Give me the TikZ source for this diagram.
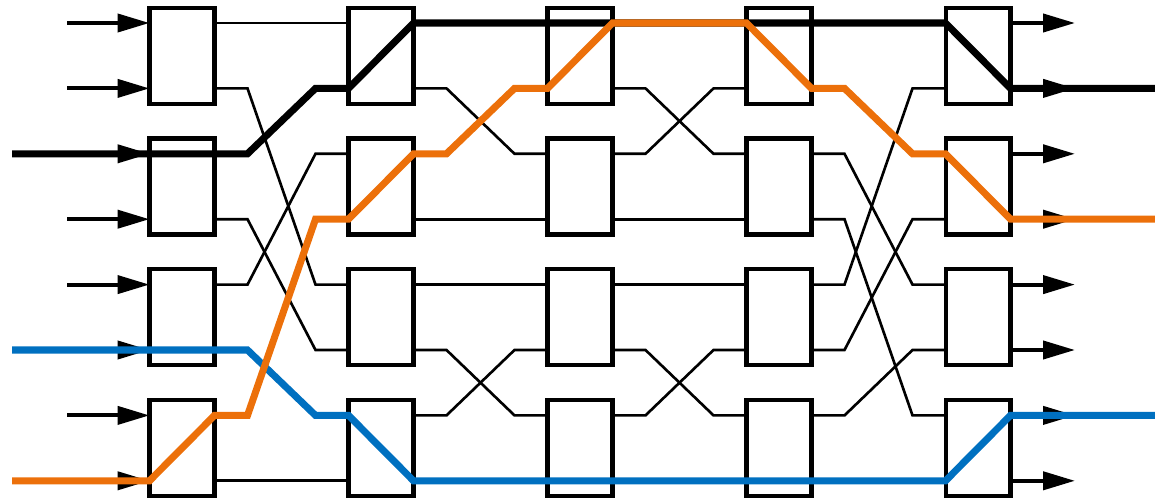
\documentclass[tikz,border=0pt]{standalone}
\usepackage{xcolor}
\usepackage{tikz}
\usetikzlibrary{arrows.meta}
\definecolor{pathorange}{HTML}{EC700A}
\definecolor{pathblue}{HTML}{0070C0}

\newcommand{\netwire}[2]{\draw[wire] (#1) -- ++(33,0) -- ([xshift=-0.66cm]#2) -- (#2);}

\begin{document}
\begin{tikzpicture}[x=0.02cm, y=-0.02cm,
  switch/.style={draw, line width=2.3pt, minimum width=1.3cm, minimum height=1.92cm, inner sep=0pt, outer sep=0pt},
  wire/.style={line width=1.5pt},
  feed/.style={line width=2.3pt, -{Triangle[length=0.64cm, width=0.36cm]}},
  route/.style={line width=4pt}]
  \useasboundingbox (0,0) rectangle (1155,503);

  % Switches and their ports
  \foreach \s in {1,...,5} {
    \foreach \k in {0,...,3}
      \node[switch] (sw\s-\k) at ({182+199*(\s-1)}, {55.7+130.8*\k}) {};
    \foreach \r in {0,...,7} {
      \coordinate (in\s-\r) at ({149.5+199*(\s-1)}, {23+65.4*\r});
      \coordinate (out\s-\r) at ({214.5+199*(\s-1)}, {23+65.4*\r});
    }
  }

  % Stage 1 -> 2
  \foreach \a/\b in {0/0,1/4,2/1,3/5,4/2,5/6,6/3,7/7} {
    \netwire{out1-\a}{in2-\b}
  }
  % Stages 2 -> 3 and 3 -> 4
  \foreach \s/\t in {2/3,3/4} {
    \foreach \a/\b in {0/0,1/2,2/1,3/3,4/4,5/6,6/5,7/7} {
      \netwire{out\s-\a}{in\t-\b}
    }
  }
  % Stage 4 -> 5
  \foreach \a/\b in {0/0,1/2,2/4,3/6,4/1,5/3,6/5,7/7} {
    \netwire{out4-\a}{in5-\b}
  }

  % Inputs and outputs
  \foreach \r in {0,...,7} {
    \coordinate (src\r) at (67, {23+65.4*\r});
    \coordinate (dst\r) at (1075, {23+65.4*\r});
    \draw[feed] (src\r) -- (in1-\r);
    \draw[feed] (out5-\r) -- (dst\r);
  }

  % Routed paths
  \coordinate (lead2) at (12, {23+65.4*2});
  \coordinate (lead5) at (12, {23+65.4*5});
  \coordinate (lead7) at (12, {23+65.4*7});
  \coordinate (tail1) at (1155, {23+65.4*1});
  \coordinate (tail3) at (1155, {23+65.4*3});
  \coordinate (tail6) at (1155, {23+65.4*6});

  \draw[route] (lead2) -- ([xshift=0.66cm]out1-2) -- ([xshift=-0.66cm]in2-1) -- (in2-1)
    -- (out2-0) -- (in5-0) -- (out5-1) -- (tail1);
  \draw[route, pathblue] (lead5) -- ([xshift=0.66cm]out1-5) -- ([xshift=-0.66cm]in2-6) -- (in2-6)
    -- (out2-7) -- (in5-7) -- (out5-6) -- (tail6);
  \draw[route, pathorange] (lead7) -- (in1-7) -- (out1-6)
    -- ([xshift=0.66cm]out1-6) -- ([xshift=-0.66cm]in2-3) -- (in2-3) -- (out2-2)
    -- ([xshift=0.66cm]out2-2) -- ([xshift=-0.66cm]in3-1) -- (in3-1) -- (out3-0)
    -- (in4-0) -- (out4-1)
    -- ([xshift=0.66cm]out4-1) -- ([xshift=-0.66cm]in5-2) -- (in5-2) -- (out5-3) -- (tail3);
\end{tikzpicture}
\end{document}
